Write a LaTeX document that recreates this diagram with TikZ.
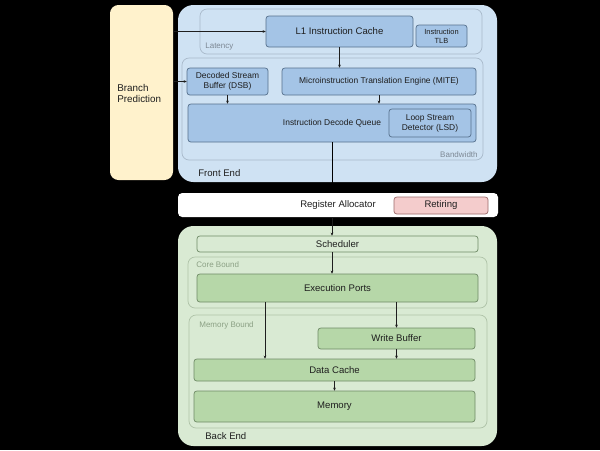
\documentclass[tikz,border=0pt]{standalone}
\usepackage{fontspec}
\setmainfont{Liberation Sans}
\usetikzlibrary{arrows.meta}

\definecolor{bpyellow}{HTML}{FFF2CC}
\definecolor{feblue}{HTML}{CFE2F3}
\definecolor{boxblue}{HTML}{A4C4E6}
\definecolor{blueline}{HTML}{56708C}
\definecolor{groupline}{HTML}{A9BACB}
\definecolor{beGreen}{HTML}{D9EAD3}
\definecolor{boxgreen}{HTML}{B6D7A8}
\definecolor{greenline}{HTML}{6F8A66}
\definecolor{groupgreen}{HTML}{AFC3A8}
\definecolor{retpink}{HTML}{F4CCCC}
\definecolor{pinkline}{HTML}{9C6A6A}
\definecolor{txt}{HTML}{1E1E1E}
\definecolor{grouptxt}{HTML}{7D8894}

\newcommand{\px}{0.025cm}

\tikzset{
	fe box/.style={draw=blueline, fill=boxblue, rounded corners=2pt, inner sep=0pt, align=center, text=txt, font=\fontsize{6}{7}\selectfont},
	be box/.style={draw=greenline, fill=boxgreen, rounded corners=2pt, inner sep=0pt, text=txt, font=\fontsize{6.8}{8}\selectfont},
	group/.style={draw=groupline, rounded corners=5pt, inner sep=0pt},
	grouplbl/.style={inner sep=0pt, text=grouptxt, font=\fontsize{5.7}{7}\selectfont},
	lbl/.style={inner sep=0pt, text=txt, font=\fontsize{6.8}{8}\selectfont},
}

\begin{document}
\begin{tikzpicture}[x=0.025cm, y=-0.025cm, >={Stealth[length=2.2pt,width=2pt]}, line width=0.5pt]
	\fill[black] (0,0) rectangle (600,450);
	\useasboundingbox (0,0) rectangle (600,450);

	% branch prediction
	\node[fill=bpyellow, rounded corners=6pt, minimum width=63*\px, minimum height=175*\px] (bp) at (141.5,92.5) {};
	\node[lbl, anchor=west, align=left, font=\fontsize{7}{8}\selectfont] (bptxt) at (117,93.5) {Branch\\Prediction};

	% front end
	\node[fill=feblue, rounded corners=11pt, minimum width=319*\px, minimum height=177*\px] (fe) at (337.5,93.5) {};
	\node[group, minimum width=282*\px, minimum height=45*\px] (lat) at (341,31.5) {};
	\node[group, minimum width=301*\px, minimum height=102*\px] (bw) at (332.5,109) {};

	\node[fe box, font=\fontsize{6.8}{8}\selectfont, minimum width=147*\px, minimum height=31*\px] (l1) at (339.5,31.5) {L1 Instruction Cache};
	\node[fe box, font=\fontsize{5.3}{6.2}\selectfont, minimum width=51*\px, minimum height=22*\px] (tlb) at (441.5,36) {Instruction\\TLB};
	\node[fe box, minimum width=81*\px, minimum height=27*\px] (dsb) at (227.5,81.5) {Decoded Stream\\Buffer (DSB)};
	\node[fe box, minimum width=194*\px, minimum height=27*\px] (mite) at (379,81.5) {Microinstruction Translation Engine (MITE)};
	\node[fe box, minimum width=288*\px, minimum height=38*\px] (idq) at (332,123) {Instruction Decode Queue};
	\node[fe box, minimum width=82*\px, minimum height=28*\px] (lsd) at (430,123) {Loop Stream\\Detector (LSD)};

	\node[grouplbl, anchor=west] (latlbl) at (205,47) {Latency};
	\node[grouplbl, anchor=east] (bwlbl) at (478,155) {Bandwidth};
	\node[lbl, anchor=west] (felbl) at (198,173) {Front End};

	% register allocation
	\node[fill=white, rounded corners=3pt, minimum width=320*\px, minimum height=24*\px, lbl] (ra) at (338,205) {Register Allocator};
	\node[draw=pinkline, fill=retpink, rounded corners=2pt, minimum width=94*\px, minimum height=17*\px, lbl] (ret) at (441,205.5) {Retiring};

	% back end
	\node[fill=beGreen, rounded corners=11pt, minimum width=319*\px, minimum height=220*\px] (be) at (337.5,336) {};
	\node[group, draw=groupgreen, minimum width=299*\px, minimum height=51*\px] (core) at (337.5,282.5) {};
	\node[group, draw=groupgreen, minimum width=298*\px, minimum height=113*\px] (mem) at (338,371.5) {};

	\node[be box, fill=beGreen, minimum width=281*\px, minimum height=16*\px] (sch) at (337.5,244) {Scheduler};
	\node[be box, minimum width=281*\px, minimum height=28*\px] (ep) at (337.5,288) {Execution Ports};
	\node[be box, minimum width=157*\px, minimum height=21*\px] (wb) at (396.5,338.5) {Write Buffer};
	\node[be box, minimum width=281*\px, minimum height=22*\px] (dc) at (334.5,370) {Data Cache};
	\node[be box, minimum width=281*\px, minimum height=31*\px] (memory) at (334.5,406.5) {Memory};

	\node[grouplbl, anchor=west, text=greenline!80] (corelbl) at (196,265) {Core Bound};
	\node[grouplbl, anchor=west, text=greenline!80] (memlbl) at (199,325) {Memory Bound};
	\node[lbl, anchor=west] (belbl) at (205,436) {Back End};

	% connectors
	\coordinate (load) at (265,0);

	\draw [->, txt] (bp.east |- l1) -- (l1);
	\draw [->, txt] (bp.east |- dsb) -- (dsb);
	\draw [->, txt] (l1.south) -- (l1.south |- mite.north);
	\draw [->, txt] (dsb.south) -- (dsb.south |- idq.north);
	\draw [->, txt] (mite.south) -- (mite.south |- idq.north);
	\draw [black] (idq.south) -- (idq.south |- ra.north);

	\draw [->, txt] (idq.south |- ra.south) -- (idq.south |- sch.north);
	\draw [->, txt] (idq.south |- sch.south) -- (idq.south |- ep.north);
	\draw [->, txt] (load |- ep.south) -- (load |- dc.north);
	\draw [->, txt] (wb |- ep.south) -- (wb);
	\draw [->, txt] (wb) -- (wb |- dc.north);
	\draw [->, txt] (dc) -- (memory);
\end{tikzpicture}
\end{document}
